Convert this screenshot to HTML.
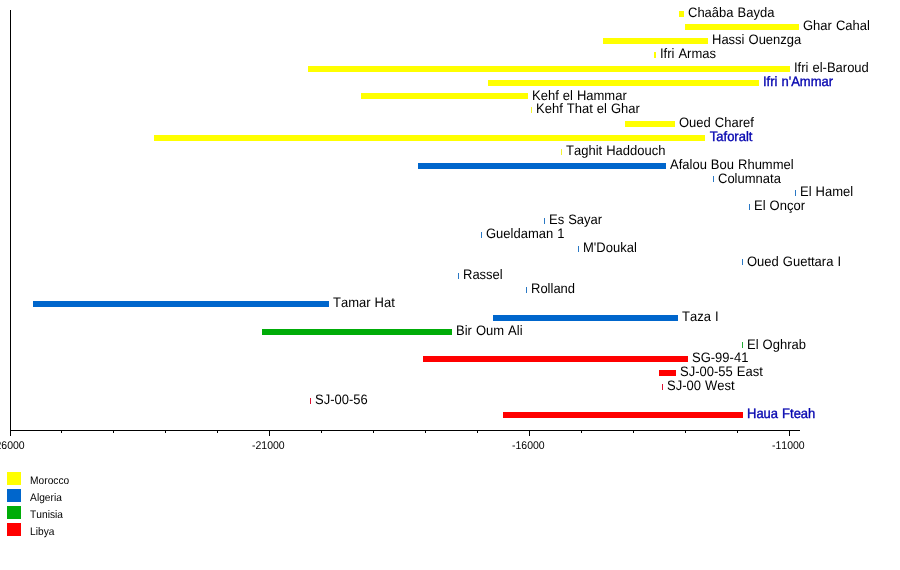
<!DOCTYPE html>
<html><head><meta charset="utf-8"><title>Timeline</title>
<style>
html,body{margin:0;padding:0;background:#fff;}
body{width:900px;height:570px;overflow:hidden;}
svg{display:block;word-spacing:0.4px;text-rendering:geometricPrecision;font-kerning:none;font-feature-settings:"kern" 0,"liga" 0;font-family:"Liberation Sans",sans-serif;}
.l{font-size:13px;fill:#000;}
.k{font-size:13px;fill:#0606b0;stroke:#0606b0;stroke-width:0.35;}
.t{font-size:10.5px;fill:#000;}
.g{font-size:10.2px;fill:#000;}
</style></head><body>
<svg width="900" height="570" viewBox="0 0 900 570">
<rect width="900" height="570" fill="#fff"/>
<rect x="679" y="11" width="5" height="6" fill="#ffff00"/>
<text class="l" transform="translate(688 17.3) scale(1 1.055)">Chaâba Bayda</text>
<rect x="685" y="24" width="114" height="6" fill="#ffff00"/>
<text class="l" transform="translate(803 30.3) scale(1 1.055)">Ghar Cahal</text>
<rect x="603" y="38" width="105" height="6" fill="#ffff00"/>
<text class="l" transform="translate(712 44.3) scale(1 1.055)">Hassi Ouenzga</text>
<rect x="654" y="52" width="2" height="6" fill="#ffff00"/>
<text class="l" transform="translate(660 58.3) scale(1 1.055)">Ifri Armas</text>
<rect x="308" y="66" width="482" height="6" fill="#ffff00"/>
<text class="l" transform="translate(794 72.3) scale(1 1.055)">Ifri el-Baroud</text>
<rect x="488" y="80" width="271" height="6" fill="#ffff00"/>
<text class="k" transform="translate(763 86.0) scale(1 1.055)">Ifri n'Ammar</text>
<rect x="361" y="93" width="167" height="6" fill="#ffff00"/>
<text class="l" transform="translate(532 100.3) scale(1 1.055)">Kehf el Hammar</text>
<rect x="531" y="107" width="1" height="6" fill="#f4f430"/>
<text class="l" transform="translate(536 113.3) scale(1 1.055)">Kehf That el Ghar</text>
<rect x="625" y="121" width="50" height="6" fill="#ffff00"/>
<text class="l" transform="translate(679 127.3) scale(1 1.055)">Oued Charef</text>
<rect x="154" y="135" width="551" height="6" fill="#ffff00"/>
<text class="k" style="font-kerning:normal;font-feature-settings:normal" transform="translate(709.8 141.0) scale(1 1.055)">Taforalt</text>
<rect x="561" y="149" width="1" height="6" fill="#f4f430"/>
<text class="l" transform="translate(566 155.3) scale(1 1.055)">Taghit Haddouch</text>
<rect x="418" y="163" width="248" height="6" fill="#0066cc"/>
<text class="l" transform="translate(670 169.3) scale(1 1.055)">Afalou Bou Rhummel</text>
<rect x="713" y="176" width="1" height="6" fill="#2a78c4"/>
<text class="l" transform="translate(718 183.3) scale(1 1.055)">Columnata</text>
<rect x="795" y="190" width="1" height="6" fill="#2a78c4"/>
<text class="l" transform="translate(800 196.3) scale(1 1.055)">El Hamel</text>
<rect x="749" y="204" width="1" height="6" fill="#2a78c4"/>
<text class="l" transform="translate(754 210.3) scale(1 1.055)">El Onçor</text>
<rect x="544" y="218" width="1" height="6" fill="#2a78c4"/>
<text class="l" transform="translate(549 224.3) scale(1 1.055)">Es Sayar</text>
<rect x="481" y="232" width="1" height="6" fill="#2a78c4"/>
<text class="l" transform="translate(486 238.3) scale(1 1.055)">Gueldaman 1</text>
<rect x="578" y="246" width="1" height="6" fill="#2a78c4"/>
<text class="l" transform="translate(583 252.3) scale(1 1.055)">M'Doukal</text>
<rect x="742" y="259" width="1" height="6" fill="#2a78c4"/>
<text class="l" transform="translate(747 266.3) scale(1 1.055)">Oued Guettara I</text>
<rect x="458" y="273" width="1" height="6" fill="#2a78c4"/>
<text class="l" transform="translate(463 279.3) scale(1 1.055)">Rassel</text>
<rect x="526" y="287" width="1" height="6" fill="#2a78c4"/>
<text class="l" transform="translate(531 293.3) scale(1 1.055)">Rolland</text>
<rect x="33" y="301" width="296" height="6" fill="#0066cc"/>
<text class="l" transform="translate(333 307.3) scale(1 1.055)">Tamar Hat</text>
<rect x="493" y="315" width="185" height="6" fill="#0066cc"/>
<text class="l" transform="translate(682 321.3) scale(1 1.055)">Taza I</text>
<rect x="262" y="329" width="190" height="6" fill="#00ac08"/>
<text class="l" transform="translate(456 335.3) scale(1 1.055)">Bir Oum Ali</text>
<rect x="742" y="342" width="1" height="6" fill="#22aa33"/>
<text class="l" transform="translate(747 349.3) scale(1 1.055)">El Oghrab</text>
<rect x="423" y="356" width="265" height="6" fill="#ff0000"/>
<text class="l" transform="translate(692 362.3) scale(1 1.055)">SG-99-41</text>
<rect x="659" y="370" width="17" height="6" fill="#ff0000"/>
<text class="l" transform="translate(680 376.3) scale(1 1.055)">SJ-00-55 East</text>
<rect x="662" y="384" width="1" height="6" fill="#dd1133"/>
<text class="l" transform="translate(667 390.3) scale(1 1.055)">SJ-00 West</text>
<rect x="310" y="398" width="1" height="6" fill="#dd1133"/>
<text class="l" transform="translate(315 404.3) scale(1 1.055)">SJ-00-56</text>
<rect x="503" y="412" width="240" height="6" fill="#ff0000"/>
<text class="k" transform="translate(747 418.0) scale(1 1.055)">Haua Fteah</text>
<g fill="#000">
<rect x="10" y="10" width="1" height="426"/>
<rect x="10" y="430" width="790" height="1"/>
<rect x="61" y="430" width="1" height="3"/>
<rect x="113" y="430" width="1" height="3"/>
<rect x="165" y="430" width="1" height="3"/>
<rect x="217" y="430" width="1" height="3"/>
<rect x="269" y="430" width="1" height="6"/>
<rect x="321" y="430" width="1" height="3"/>
<rect x="373" y="430" width="1" height="3"/>
<rect x="425" y="430" width="1" height="3"/>
<rect x="477" y="430" width="1" height="3"/>
<rect x="529" y="430" width="1" height="6"/>
<rect x="581" y="430" width="1" height="3"/>
<rect x="633" y="430" width="1" height="3"/>
<rect x="685" y="430" width="1" height="3"/>
<rect x="737" y="430" width="1" height="3"/>
<rect x="789" y="430" width="1" height="6"/>
</g>
<text class="t" transform="translate(8.3 448.9) scale(1 1.07)" text-anchor="middle">-26000</text>
<text class="t" transform="translate(268.3 448.9) scale(1 1.07)" text-anchor="middle">-21000</text>
<text class="t" transform="translate(528.3 448.9) scale(1 1.07)" text-anchor="middle">-16000</text>
<text class="t" transform="translate(788.3 448.9) scale(1 1.07)" text-anchor="middle">-11000</text>
<rect x="7" y="472" width="14" height="13" fill="#ffff00"/>
<text class="g" transform="translate(30.1 483.9) scale(1 1.07)">Morocco</text>
<rect x="7" y="489" width="14" height="13" fill="#0066cc"/>
<text class="g" transform="translate(30.1 500.9) scale(1 1.07)">Algeria</text>
<rect x="7" y="506" width="14" height="13" fill="#00ac08"/>
<text class="g" transform="translate(30.1 517.9) scale(1 1.07)">Tunisia</text>
<rect x="7" y="523" width="14" height="13" fill="#ff0000"/>
<text class="g" transform="translate(30.1 534.9) scale(1 1.07)">Libya</text>
</svg></body></html>
